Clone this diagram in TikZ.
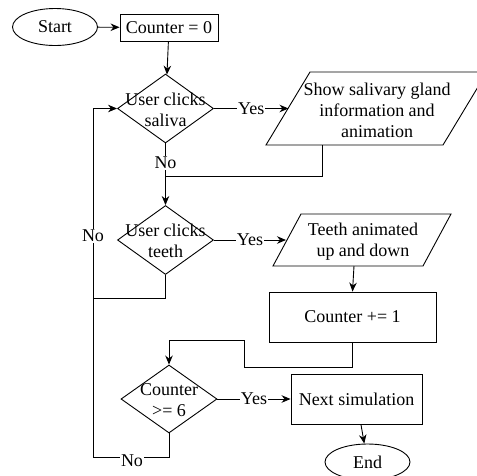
\documentclass[tikz,border=0pt]{standalone}
\usepackage{fontspec}
\setmainfont{Liberation Serif}
\usetikzlibrary{shapes.geometric,arrows.meta}
\begin{document}
\begin{tikzpicture}[x=1pt,y=-1pt,line width=0.9pt,
  >={Stealth[length=9pt,width=7.5pt]},
  font=\fontsize{18}{21}\selectfont,
  every node/.style={inner sep=0pt},
  term/.style={draw,ellipse,minimum width=85pt,minimum height=37pt},
  procbox/.style={draw,rectangle,align=center},
  dec/.style={draw,diamond,minimum width=96pt,minimum height=69pt},
  txt/.style={align=center},
  lbl/.style={fill=white,inner sep=1pt}]
\useasboundingbox (0,0) rectangle (477,475);
\clip (0,0) rectangle (477,475);

% nodes
\node[term] (start) at (55,27) {Start};
\node[procbox,minimum width=98pt,minimum height=27pt] (c0) at (169,27.5) {Counter = 0};
\node[dec] (d1) at (165.5,108.5) {};
\node[txt] (d1t) at (165.5,110) {User clicks\\saliva};

\draw (266,145) -- (310,72) -- (487,72) -- (443,145) -- cycle;
\node[txt] (p1t) at (377,110) {Show salivary gland\\information and\\animation};
\coordinate (p1in) at (288.5,108.5);
\coordinate (p1out) at (322,145);

\node[dec] (d2) at (165.5,240) {};
\node[txt] (d2t) at (165.5,241) {User clicks\\teeth};

\draw (273,266) -- (301,214) -- (451,214) -- (423,266) -- cycle;
\node[txt] (p2t) at (363,242) {Teeth animated\\up and down};
\coordinate (p2in) at (286,240);
\coordinate (p2out) at (354,266);

\node[procbox,minimum width=167pt,minimum height=50pt] (inc) at (352.5,317) {Counter += 1};

\node[dec,minimum height=68pt] (d3) at (169,399) {};
\node[txt] (d3t) at (169,400) {Counter\\>= 6};

\node[procbox,minimum width=131pt,minimum height=50pt] (ns) at (356.5,399) {Next simulation};
\node[term,minimum height=36pt] (end) at (367.5,462) {End};

\coordinate (L1) at (93,298);
\coordinate (L2) at (93,457);
\coordinate (R1) at (244,367);
\coordinate (R2) at (244,340.5);

% connectors
\draw[->] (start) -- (c0);
\draw[->] (c0) -- (d1);
\draw[->] (d1.east) -- node[lbl] (y1) {Yes} (p1in);
\draw (d1.south) -- node[lbl,pos=0.6] (n1) {No} (165.5,176);
\draw[->] (p1out) -- ++(0,31) -| (d2.north);
\draw[->] (d2.east) -- node[lbl] (y2) {Yes} (p2in);
\draw[->] (d2.south) |- (L1) |- (d1.west);
\node[lbl] (n2) at (93,236) {No};
\draw[->] (p2out) -- (inc.north);
\draw[->] (inc.south) |- (R1) -- (R2) -| (d3.north);
\draw[->] (d3.east) -- node[lbl] (y3) {Yes} (ns.west);
\draw (d3.south) |- (L2) -- (L1);
\node[lbl] (n3) at (132,461) {No};
\draw[->] (ns) -- (end);
\end{tikzpicture}
\end{document}
